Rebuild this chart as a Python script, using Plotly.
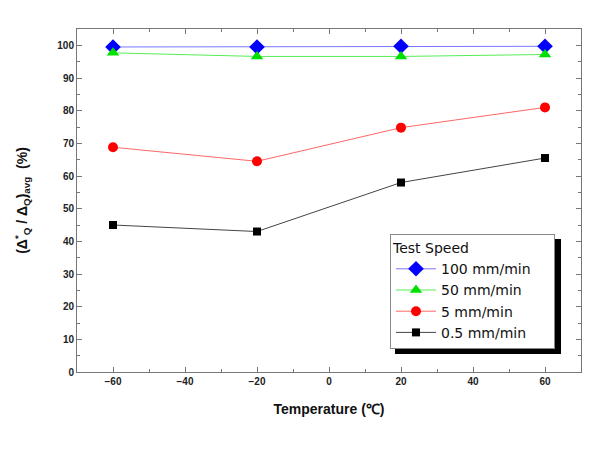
import plotly.graph_objects as go

temperature = [-60, -20, 20, 60]
speed_100 = [99.5, 99.5, 99.7, 99.7]
speed_50 = [97.7, 96.6, 96.6, 97.2]
speed_5 = [68.8, 64.5, 74.8, 81.0]
speed_05 = [45.0, 43.0, 58.0, 65.5]

series = [
    ("100 mm/min", speed_100, "#0000ff", "#7777ff", "diamond", 12),
    ("50 mm/min", speed_50, "#00e000", "#55ee55", "triangle-up", 11),
    ("5 mm/min", speed_5, "#ff0000", "#ff6666", "circle", 10),
    ("0.5 mm/min", speed_05, "#000000", "#444444", "square", 8),
]

FONT = "Liberation Sans, Arial, sans-serif"
LFONT = "DejaVu Sans, sans-serif"
PAD = "\u00a0" * 4
fig = go.Figure()
for name, vals, mc, lc, sym, sz in series:
    fig.add_trace(go.Scatter(
        x=temperature, y=vals, name=name + PAD, mode="lines+markers",
        line=dict(color=lc, width=1),
        marker=dict(color=mc, symbol=sym, size=sz, line=dict(width=0)),
    ))

W, H = 589, 461
L, R, T, B = 77, 8, 29, 89
pw, ph = W - L - R, H - T - B

def px_to_paper(x, y):
    return (x - L) / pw, 1 - (y - T) / ph

lx0, ly0 = px_to_paper(390, 234)
sx0, sy0 = px_to_paper(395, 239)
sx1, sy1 = px_to_paper(561, 354)

fig.add_shape(type="rect", xref="paper", yref="paper",
              x0=sx0, x1=sx1, y0=sy1, y1=sy0,
              fillcolor="black", line=dict(width=0), layer="above")

axis_common = dict(
    showgrid=False, zeroline=False, showline=True, linecolor="#777777", linewidth=1,
    mirror="ticks", ticks="inside", ticklen=5, tickcolor="#777777", tickwidth=1,
    tickfont=dict(family=FONT, size=10, color="#222222", weight="bold"),
)
fig.update_xaxes(range=[-70, 70], tickvals=[-60, -40, -20, 0, 20, 40, 60],
                 minor=dict(ticks="inside", ticklen=3, dtick=10, tick0=0, tickcolor="#777777"),
                 title=dict(text="Temperature (℃)", font=dict(family=FONT, size=14, color="#111111", weight="bold"), standoff=18),
                 **axis_common)
fig.update_yaxes(range=[0, 105], tickvals=list(range(0, 101, 10)),
                 minor=dict(ticks="inside", ticklen=3, dtick=5, tick0=0, tickcolor="#777777"),
                 title=dict(text="(Δ<sup>*</sup><sub>Q</sub> / Δ<sub>Q</sub>)<sub>avg</sub>  (%)",
                            font=dict(family=FONT, size=14, color="#111111", weight="bold"), standoff=26),
                 **axis_common)

fig.update_layout(
    width=W, height=H, margin=dict(l=L, r=R, t=T, b=B),
    paper_bgcolor="white", plot_bgcolor="white",
    showlegend=True,
    legend=dict(
        x=lx0, y=ly0, xanchor="left", yanchor="top",
        bgcolor="white", bordercolor="#888888", borderwidth=1,
        title=dict(text="Test Speed", font=dict(family=LFONT, size=14, color="#111111")),
        font=dict(family=LFONT, size=14, color="#111111"),
        itemwidth=40, tracegroupgap=0,
    ),
)

fig.write_html("out.html")
